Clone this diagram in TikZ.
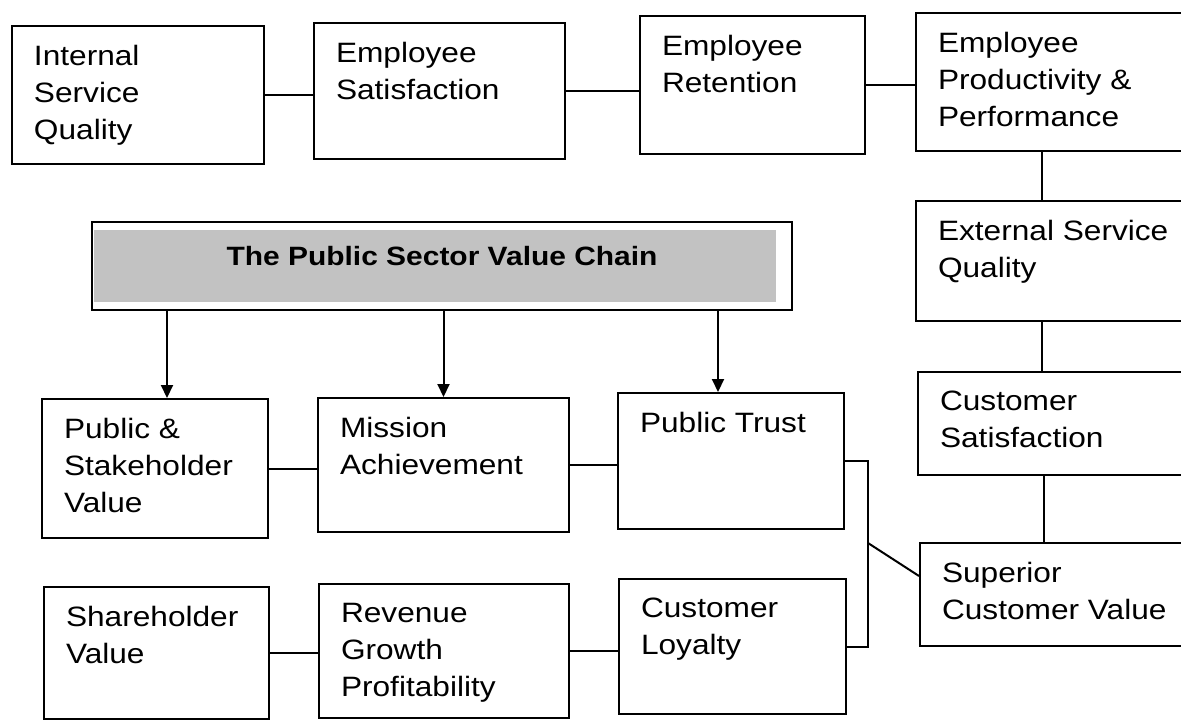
\documentclass[tikz,border=0pt]{standalone}
\usepackage{fontspec}
\setmainfont[FakeStretch=1.13]{Liberation Sans}
\usepackage{xcolor}
\usepackage{tikz}
\usetikzlibrary{arrows.meta,backgrounds}

\definecolor{banfill}{gray}{0.76}

% fixed-size text block, set from the top left corner of a box
\newcommand{\cell}[3]{\parbox[t][#2][t]{#1}{\raggedright #3}}

\begin{document}
\begin{tikzpicture}[
    x=1pt, y=-1pt,
    blk/.style={
        rectangle, draw=black, line width=2pt,
        anchor=north west, inner xsep=22pt, inner ysep=19pt,
        font=\fontsize{28pt}{37pt}\selectfont
    },
    banner/.style={blk, inner ysep=24pt, font=\fontsize{26.5pt}{32pt}\selectfont\bfseries},
    link/.style={line width=2pt, color=black},
    arr/.style={link, -{Triangle[length=13pt, width=12pt]}},
]
\useasboundingbox (0,0) rectangle (1181,721);
\clip (0,0) rectangle (1181,721);

% employee side, top row
\node[blk] (isq)  at (11,25)  {\cell{208pt}{100pt}{Internal\\Service\\Quality}};
\node[blk] (esat) at (313,22) {\cell{207pt}{98pt}{Employee\\Satisfaction}};
\node[blk] (eret) at (639,15) {\cell{181pt}{100pt}{Employee\\Retention}};
\node[blk] (epp)  at (915,12) {\cell{241pt}{100pt}{Employee\\Productivity \&\\Performance}};

% customer side, right column
\node[blk] (esq)  at (915,200) {\cell{241pt}{82pt}{External Service\\Quality}};
\node[blk] (csat) at (917,371) {\cell{239pt}{65pt}{Customer\\Satisfaction}};
\node[blk] (scv)  at (919,542) {\cell{237pt}{65pt}{Superior\\Customer Value}};

% public sector chain
\node[banner] (ban) at (91,221) {\cell{656pt}{40pt}{\centering The Public Sector Value Chain}};
\node[blk] (psv)    at (41,398)  {\cell{182pt}{101pt}{Public \&\\Stakeholder\\Value}};
\node[blk] (mach)   at (317,397) {\cell{207pt}{96pt}{Mission\\Achievement}};
\node[blk] (ptrust) at (617,392) {\cell{182pt}{98pt}{Public Trust}};

% private sector chain, bottom row
\node[blk] (shv)  at (43,586)  {\cell{181pt}{94pt}{Shareholder\\Value}};
\node[blk] (rev)  at (318,583) {\cell{206pt}{96pt}{Revenue\\Growth\\Profitability}};
\node[blk] (cloy) at (618,578) {\cell{183pt}{97pt}{Customer\\Loyalty}};

\begin{scope}[on background layer]
  \fill[banfill] ([shift={(3,9)}]ban.north west) rectangle ([shift={(-17,-9)}]ban.south east);
\end{scope}

\foreach \a/\b in {isq/esat, esat/eret, eret/epp, psv/mach, mach/ptrust, shv/rev, rev/cloy}
  \draw[link] (\a.east) -- (\a.east -| \b.west);

\foreach \a/\b in {epp/esq, esq/csat, csat/scv}
  \draw[link] ([xshift=127pt]\a.south west) -- ([xshift=127pt]\a.south west |- \b.north);

% trust and loyalty both feed superior customer value
\coordinate (jct) at (868,543);
\draw[link] (ptrust.east) -| (jct) |- (cloy.east);
\draw[link] (jct) -- ([yshift=18.5pt]scv.west);

\foreach \b/\dx in {psv/12, mach/0, ptrust/-13}
  \draw[arr] ([xshift=\dx pt]\b.north |- ban.south) -- ([xshift=\dx pt]\b.north);

\end{tikzpicture}
\end{document}
